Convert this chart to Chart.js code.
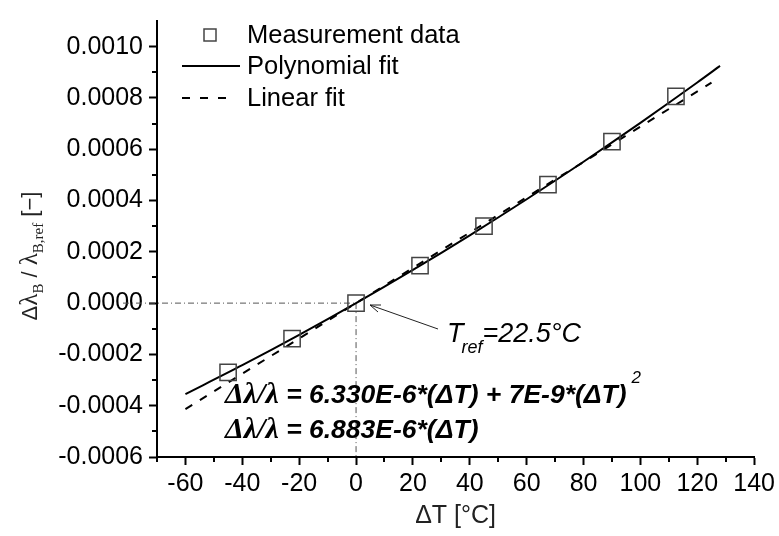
<!DOCTYPE html>
<html>
<head>
    <title>Temperature sensitivity</title>
    <script src="https://cdn.jsdelivr.net/npm/chart.js@4.4.1/dist/chart.umd.min.js"></script>
    <style>
        body {
            margin: 0;
            background-color: #fff;
        }
        #wrap {
            width: 779px;
            height: 536px;
        }
    </style>
</head>
<body>
<div id="wrap"><canvas id="fitChart" width="779" height="536"></canvas></div>
<script>
    // data
    const measT = [-45, -22.5, 0, 22.5, 45, 67.5, 90, 112.5];
    const measVal = [-0.000270, -0.000138, 0, 0.000146, 0.000300, 0.000462, 0.000630, 0.000806];

    const polyT = [-60, -40, -20, 0, 20, 40, 60, 80, 100, 120, 128];
    const polyVal = [-0.0003546, -0.0002420, -0.0001238, 0, 0.0001294, 0.0002644, 0.0004050, 0.0005512, 0.000703, 0.0008604, 0.000925];

    const linT = [-60, 125];
    const linVal = [-0.000413, 0.000860];

    const xTicks = [-60, -40, -20, 0, 20, 40, 60, 80, 100, 120, 140];
    const yTicks = [-0.0006, -0.0004, -0.0002, 0, 0.0002, 0.0004, 0.0006, 0.0008, 0.0010];
    const xMinor = [-70, -50, -30, -10, 10, 30, 50, 70, 90, 110, 130];
    const yMinor = [-0.0005, -0.0003, -0.0001, 0.0001, 0.0003, 0.0005, 0.0007, 0.0009];

    const legendLabels = ['Measurement data', 'Polynomial fit', 'Linear fit'];
    const refLabel = ['T', 'ref', '=22.5°C'];
    const eqPoly = ['Δλ/λ', ' = 6.330E-6*(ΔT) + 7E-9*(ΔT)', '2'];
    const eqLin = ['Δλ/λ', ' = 6.883E-6*(ΔT)'];

    function pts(xs, ys) {
        return xs.map(function (x, i) { return {x: x, y: ys[i]}; });
    }

    const sans = '"Liberation Sans", Arial, sans-serif';
    const serif = '"Liberation Serif", "Times New Roman", serif';

    // annotations, legend, minor ticks, y title
    const extras = {
        id: 'extras',
        beforeDatasetsDraw: function (chart) {
            const ctx = chart.ctx;
            const xs = chart.scales.x, ys = chart.scales.y;
            const x0 = xs.getPixelForValue(0), y0 = ys.getPixelForValue(0);
            ctx.save();
            ctx.strokeStyle = '#555';
            ctx.lineWidth = 1;
            ctx.setLineDash([6, 3, 1, 3]);
            ctx.beginPath();
            ctx.moveTo(123, y0);
            ctx.lineTo(x0, y0);
            ctx.moveTo(x0, y0);
            ctx.lineTo(x0, ys.bottom);
            ctx.stroke();
            ctx.restore();
        },
        afterDraw: function (chart) {
            const ctx = chart.ctx;
            const xs = chart.scales.x, ys = chart.scales.y;
            ctx.save();

            // minor ticks
            ctx.strokeStyle = '#000';
            ctx.lineWidth = 2;
            ctx.beginPath();
            xMinor.forEach(function (v) {
                const px = Math.round(xs.getPixelForValue(v));
                ctx.moveTo(px, ys.bottom);
                ctx.lineTo(px, ys.bottom + 5);
            });
            yMinor.forEach(function (v) {
                const py = Math.round(ys.getPixelForValue(v));
                ctx.moveTo(xs.left, py);
                ctx.lineTo(xs.left - 5, py);
            });
            ctx.stroke();

            // legend
            ctx.fillStyle = '#000';
            ctx.textBaseline = 'middle';
            ctx.font = '25.5px ' + sans;
            ctx.strokeStyle = '#444';
            ctx.lineWidth = 1.5;
            ctx.strokeRect(204, 29, 12, 12);
            ctx.fillText(legendLabels[0], 247, 36);
            ctx.strokeStyle = '#000';
            ctx.lineWidth = 2;
            ctx.beginPath();
            ctx.moveTo(182, 66);
            ctx.lineTo(240, 66);
            ctx.stroke();
            ctx.fillText(legendLabels[1], 247, 67);
            ctx.setLineDash([8, 10]);
            ctx.beginPath();
            ctx.moveTo(182, 98);
            ctx.lineTo(232, 98);
            ctx.stroke();
            ctx.setLineDash([]);
            ctx.fillText(legendLabels[2], 247, 99);

            // arrow to reference point
            ctx.strokeStyle = '#222';
            ctx.lineWidth = 1;
            ctx.beginPath();
            ctx.moveTo(438, 329);
            ctx.lineTo(370, 305);
            ctx.moveTo(370, 305);
            ctx.lineTo(381, 305);
            ctx.moveTo(370, 305);
            ctx.lineTo(378, 312);
            ctx.stroke();

            // T_ref label
            ctx.textBaseline = 'alphabetic';
            ctx.font = 'italic 27px ' + sans;
            ctx.fillText(refLabel[0], 447, 342);
            const tw = ctx.measureText(refLabel[0]).width;
            ctx.font = 'italic 18px ' + sans;
            ctx.fillText(refLabel[1], 447 + tw - 2, 353);
            const rw = ctx.measureText(refLabel[1]).width;
            ctx.font = 'italic 27px ' + sans;
            ctx.fillText(refLabel[2], 447 + tw - 2 + rw, 342);

            // equations
            function eq(parts, y) {
                let x = 225;
                ctx.font = 'bold italic 30px ' + serif;
                ctx.fillText(parts[0], x, y);
                x += ctx.measureText(parts[0]).width;
                ctx.font = 'bold italic 26.5px ' + sans;
                ctx.fillText(parts[1], x, y);
                x += ctx.measureText(parts[1]).width;
                if (parts[2]) {
                    ctx.font = 'italic 17px ' + sans;
                    ctx.fillText(parts[2], x + 5, y - 20);
                }
            }
            eq(eqPoly, 403);
            eq(eqLin, 438);

            // y title with subscripts
            ctx.translate(37, 256);
            ctx.rotate(-Math.PI / 2);
            ctx.fillStyle = '#222';
            const segs = [
                ['Δ', '22px ' + sans, 0],
                ['λ', '25px ' + serif, 0],
                ['B', '15px ' + serif, 6],
                [' / ', '22px ' + sans, 0],
                ['λ', '25px ' + serif, 0],
                ['B,ref', '15px ' + serif, 6],
                [' [−]', '22px ' + sans, 0]
            ];
            let total = 0;
            segs.forEach(function (s) {
                ctx.font = s[1];
                total += ctx.measureText(s[0]).width;
            });
            let cx = -total / 2;
            segs.forEach(function (s) {
                ctx.font = s[1];
                ctx.fillText(s[0], cx, s[2]);
                cx += ctx.measureText(s[0]).width;
            });
            ctx.restore();
        }
    };

    const chart = new Chart('fitChart', {
        type: 'scatter',
        data: {
            datasets: [{
                label: legendLabels[0],
                data: pts(measT, measVal),
                pointStyle: 'rect',
                pointRadius: 11.5,
                borderColor: '#444',
                borderWidth: 1.5,
                backgroundColor: 'rgba(0,0,0,0)',
                order: 0
            }, {
                label: legendLabels[1],
                data: pts(polyT, polyVal),
                showLine: true,
                pointRadius: 0,
                borderColor: '#000',
                borderWidth: 2,
                tension: 0.3,
                order: 1
            }, {
                label: legendLabels[2],
                data: pts(linT, linVal),
                showLine: true,
                pointRadius: 0,
                borderColor: '#000',
                borderWidth: 2,
                borderDash: [8, 9],
                order: 2
            }]
        },
        options: {
            responsive: false,
            animation: false,
            layout: {padding: {left: 0, top: 14, right: 22, bottom: 0}},
            plugins: {
                legend: {display: false},
                tooltip: {enabled: false}
            },
            scales: {
                x: {
                    type: 'linear',
                    min: -70,
                    max: 140,
                    afterFit: function (s) { s.height = 79; },
                    afterBuildTicks: function (s) {
                        s.ticks = xTicks.map(function (v) { return {value: v}; });
                    },
                    border: {color: '#000', width: 2},
                    grid: {drawOnChartArea: false, tickLength: 8, color: '#000', tickWidth: 2},
                    ticks: {
                        color: '#000',
                        padding: 4,
                        maxRotation: 0,
                        font: {family: sans, size: 25}
                    },
                    title: {
                        display: true,
                        text: 'ΔT [°C]',
                        color: '#222',
                        padding: {top: 0, bottom: 5},
                        font: {family: sans, size: 25}
                    }
                },
                y: {
                    type: 'linear',
                    min: -0.0006,
                    max: 0.0011,
                    afterFit: function (s) { s.width = 157; },
                    afterBuildTicks: function (s) {
                        s.ticks = yTicks.map(function (v) { return {value: v}; });
                    },
                    border: {color: '#000', width: 2},
                    grid: {drawOnChartArea: false, tickLength: 8, color: '#000', tickWidth: 2},
                    ticks: {
                        color: '#000',
                        padding: 6,
                        font: {family: sans, size: 25},
                        callback: function (v) { return Math.abs(v) < 1e-12 ? '0.0000' : v.toFixed(4); }
                    }
                }
            }
        },
        plugins: [extras]
    });
</script>
</body>
</html>
